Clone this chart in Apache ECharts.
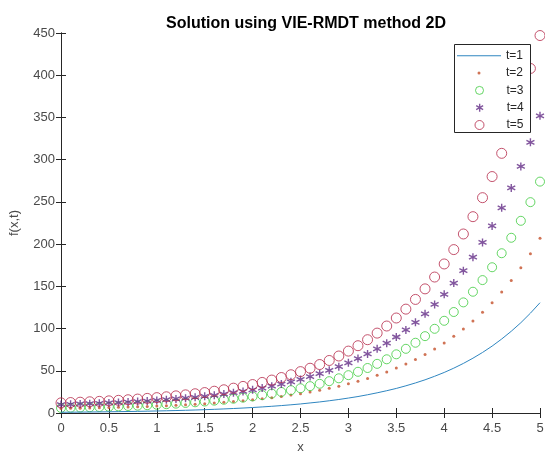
<!DOCTYPE html>
<html>
<head>
<meta charset="utf-8">
<title>Solution using VIE-RMDT method 2D</title>
<script src="https://cdn.jsdelivr.net/npm/echarts@6/dist/echarts.min.js"></script>
<style>
  html, body { margin: 0; padding: 0; background: #fff; }
  #chart { width: 545px; height: 455px; }
</style>
</head>
<body>
<div id="chart"></div>
<script>
// x grid of the solution
var xs = [0, 0.1, 0.2, 0.3, 0.4, 0.5, 0.6, 0.7, 0.8, 0.9,
  1, 1.1, 1.2, 1.3, 1.4, 1.5, 1.6, 1.7, 1.8, 1.9,
  2, 2.1, 2.2, 2.3, 2.4, 2.5, 2.6, 2.7, 2.8, 2.9,
  3, 3.1, 3.2, 3.3, 3.4, 3.5, 3.6, 3.7, 3.8, 3.9,
  4, 4.1, 4.2, 4.3, 4.4, 4.5, 4.6, 4.7, 4.8, 4.9, 5]

// f(x,t), one array per time
var t1 = [0.88, 0.97, 1.07, 1.19, 1.31, 1.45, 1.6, 1.77, 1.96, 2.16,
  2.39, 2.64, 2.92, 3.23, 3.57, 3.94, 4.36, 4.82, 5.32, 5.88,
  6.5, 7.19, 7.94, 8.78, 9.7, 10.7, 11.9, 13.1, 14.5, 16,
  17.7, 19.5, 21.6, 23.9, 26.4, 29.1, 32.2, 35.6, 39.3, 43.5,
  48, 53.1, 58.7, 64.9, 71.7, 79.2, 87.6, 96.8, 106.9, 118.2, 130.6]
var t2 = [5.4, 5.5, 5.7, 6, 6.2, 6.5, 6.8, 7.1, 7.4, 7.8,
  8.2, 8.7, 9.2, 9.8, 10.4, 11.1, 11.8, 12.6, 13.6, 14.5,
  15.6, 16.8, 18.1, 19.6, 21.2, 22.9, 24.8, 26.9, 29.2, 31.8,
  34.5, 37.6, 41, 44.7, 48.7, 53.2, 58.1, 63.4, 69.3, 75.8,
  83, 90.8, 99.4, 108.8, 119.2, 130.6, 143.2, 156.9, 172.1, 188.7, 206.9]
var t3 = [6, 6.2, 6.5, 6.8, 7.1, 7.4, 7.8, 8.3, 8.7, 9.2,
  9.8, 10.4, 11.1, 11.9, 12.7, 13.6, 14.6, 15.7, 16.9, 18.2,
  19.6, 21.2, 23, 24.9, 27, 29.3, 31.8, 34.6, 37.7, 41.1,
  44.8, 48.8, 53.3, 58.2, 63.6, 69.5, 76, 83.2, 91, 99.7,
  109.2, 119.6, 131, 143.6, 157.4, 172.6, 189.2, 207.5, 227.6, 249.7, 274]
var t4 = [10, 10.3, 10.7, 11.1, 11.5, 11.9, 12.4, 13, 13.6, 14.2,
  14.9, 15.7, 16.6, 17.6, 18.6, 19.8, 21, 22.4, 24, 25.6,
  27.5, 29.5, 31.7, 34.2, 36.9, 39.8, 43.1, 46.6, 50.5, 54.8,
  59.4, 64.5, 70, 76, 82.7, 90, 98.3, 107.4, 117.5, 128.5,
  140.5, 153.8, 168.5, 184.5, 202, 221.5, 243, 266.5, 292, 320.5, 352]
var t5 = [12, 12.4, 12.8, 13.3, 13.8, 14.4, 15, 15.7, 16.5, 17.3,
  18.2, 19.2, 20.3, 21.5, 22.8, 24.2, 25.8, 27.5, 29.4, 31.5,
  33.7, 36.2, 39, 42, 45.3, 49, 53, 57.4, 62.2, 67.5,
  73.3, 79.7, 86.8, 94.6, 103, 112.5, 123, 134.5, 147, 161,
  176.5, 193.5, 212, 232.5, 255, 280, 307.5, 338, 371.5, 408, 447]

var names = ['t=1', 't=2', 't=3', 't=4', 't=5']
var colors = ['#2f86c0', '#c4502a', '#3fcc3f', '#632c86', '#b5294a']

var axisColor = '#262626'
var labelColor = '#4a4a4a'
var font = '"Liberation Sans", Arial, sans-serif'
var clear = 'rgba(0,0,0,0)'
var asterisk = 'path://M5,0L5,10M0.67,2.5L9.33,7.5M0.67,7.5L9.33,2.5'

function pairs (ys) {
  return xs.map(function (x, i) { return [x, ys[i]] })
}

// one legend per row so each marker keeps its own size;
// the box is laid out from the icon's left edge, so shift it to centre the icon
function legendRow (row, itemHeight, icon, itemStyle, iconWidth) {
  var w = iconWidth || itemHeight
  return {
    data: [{name: names[row], icon: icon, itemStyle: itemStyle}],
    left: 479 - w / 2,
    top: 49.8 + row * 17.3,
    padding: 0,
    itemWidth: 44,
    itemHeight: itemHeight,
    selectedMode: false,
    z: 60,
    textStyle: {fontSize: 12, color: axisColor, fontFamily: font}
  }
}

function frameAxis (extra) {
  var base = {
    type: 'value',
    axisLine: {show: true, lineStyle: {color: axisColor, width: 1}},
    axisTick: {show: true, inside: true, length: 5, lineStyle: {color: axisColor}},
    splitLine: {show: false},
    axisLabel: {show: false}
  }
  for (var k in extra) base[k] = extra[k]
  return base
}

var chart = echarts.init(document.getElementById('chart'))
chart.setOption({
  animation: false,
  backgroundColor: '#fff',
  title: {
    text: 'Solution using VIE-RMDT method 2D',
    left: 301,
    textAlign: 'center',
    top: 11,
    textStyle: {fontSize: 16, fontWeight: 'bold', color: '#000', fontFamily: font}
  },
  grid: {left: 61, right: 5, top: 33, bottom: 42, outerBoundsMode: 'none', containLabel: false},
  xAxis: [
    frameAxis({
      position: 'bottom', min: 0, max: 5, interval: 0.5,
      name: 'x', nameLocation: 'middle', nameGap: 28,
      nameTextStyle: {fontSize: 13, color: labelColor, fontFamily: font},
      axisLabel: {show: true, margin: 9, fontSize: 13, color: labelColor, fontFamily: font}
    }),
    frameAxis({position: 'top', min: 0, max: 5, interval: 0.5})
  ],
  yAxis: [
    frameAxis({
      position: 'left', min: 0, max: 450, interval: 50,
      name: 'f(x,t)', nameLocation: 'middle', nameGap: 40,
      nameTextStyle: {fontSize: 13, color: labelColor, fontFamily: font},
      axisLabel: {show: true, margin: 6, fontSize: 13, color: labelColor, fontFamily: font}
    }),
    frameAxis({position: 'right', min: 0, max: 450, interval: 50})
  ],
  legend: [
    legendRow(0, 1, 'rect', {color: colors[0], borderWidth: 0}, 44),
    legendRow(1, 3, 'circle', {color: colors[1], borderWidth: 0}),
    legendRow(2, 8, 'circle', {color: clear, borderColor: colors[2], borderWidth: 1}),
    legendRow(3, 8, asterisk, {color: clear, borderColor: colors[3], borderWidth: 1.4}, 7),
    legendRow(4, 9, 'circle', {color: clear, borderColor: colors[4], borderWidth: 1})
  ],
  graphic: {
    elements: [{
      type: 'rect',
      z: 50,
      shape: {x: 454.5, y: 44.5, width: 76, height: 88},
      style: {fill: '#fff', stroke: axisColor, lineWidth: 1}
    }]
  },
  series: [
    {
      name: names[0], type: 'line', data: pairs(t1),
      showSymbol: false, symbol: 'none',
      lineStyle: {color: colors[0], width: 1},
      itemStyle: {color: colors[0]}
    },
    {
      name: names[1], type: 'scatter', data: pairs(t2),
      symbol: 'circle', symbolSize: 3,
      itemStyle: {color: colors[1]}
    },
    {
      name: names[2], type: 'scatter', data: pairs(t3),
      symbol: 'circle', symbolSize: 9,
      itemStyle: {color: clear, borderColor: colors[2], borderWidth: 1}
    },
    {
      name: names[3], type: 'scatter', data: pairs(t4),
      symbol: asterisk, symbolSize: 8,
      itemStyle: {color: clear, borderColor: colors[3], borderWidth: 1.4}
    },
    {
      name: names[4], type: 'scatter', data: pairs(t5),
      symbol: 'circle', symbolSize: 10,
      itemStyle: {color: clear, borderColor: colors[4], borderWidth: 1}
    }
  ]
})
</script>
</body>
</html>
